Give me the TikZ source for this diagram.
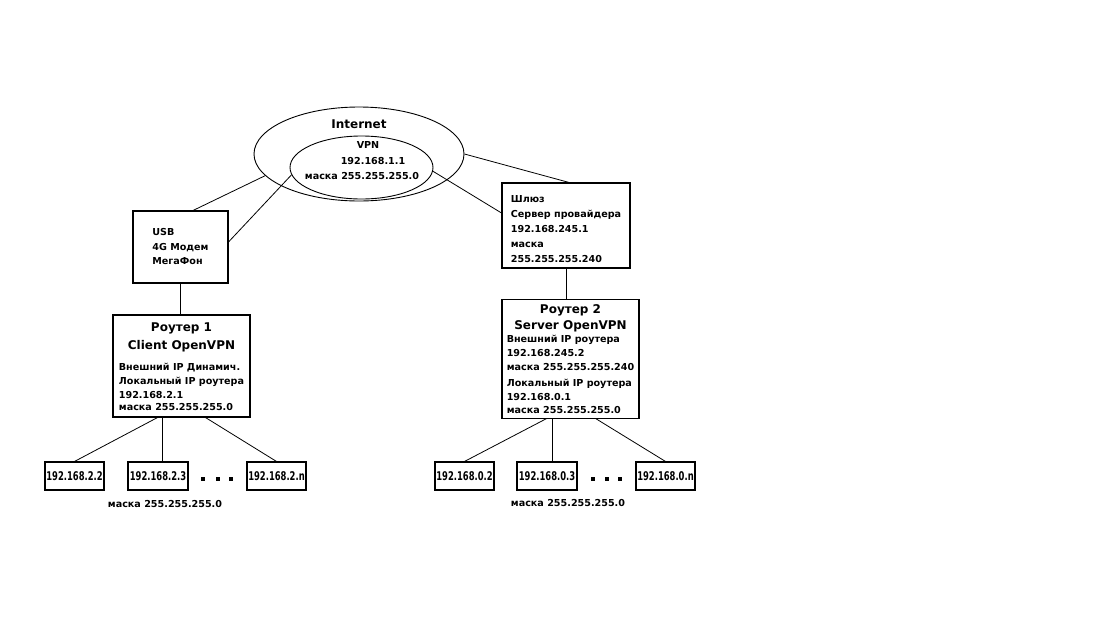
\documentclass[tikz,border=0pt]{standalone}
\usepackage{fontspec}
\setmainfont{DejaVu Sans}
\newfontfamily\hostfont[FakeStretch=0.7]{DejaVu Sans}
\usetikzlibrary{positioning,shapes.geometric}
\newcommand\ttlfont{\fontsize{12}{18}\selectfont\bfseries}
\newcommand\bodyfont{\fontsize{9.6}{14}\selectfont\bfseries}

\begin{document}
\begin{tikzpicture}[x=1pt,y=-1pt,
  box/.style={draw,line width=1.1pt,align=left,inner sep=0pt,minimum width=#1},
  box/.default=95,
  router/.style={draw,line width=1.1pt,align=center,inner sep=0pt,minimum width=137,font=\ttlfont},
  host/.style={draw,line width=1.1pt,minimum width=59,minimum height=28,inner sep=0pt,font=\hostfont\fontsize{12}{14}\selectfont\bfseries},
  cloud/.style={draw,ellipse,line width=0.9pt,inner sep=0pt},
  lbl/.style={align=center,font=\fontsize{9.6}{15.5}\selectfont\bfseries},
  dot/.style={fill,inner sep=0pt,minimum size=3.2pt},
  wire/.style={line width=0.8pt}]
\useasboundingbox[fill=white] (0,0) rectangle (1119,632);
\node[cloud,minimum width=210,minimum height=94] (inet) at (359,154) {};
\node[cloud,minimum width=143,minimum height=63] (vpn) at (361.5,167.5) {};
\node[font=\fontsize{12}{14}\selectfont\bfseries] (inettxt) at (359,124) {Internet};
\node[lbl] (vpntxt) at (362,161) {\hspace*{12pt}VPN\\\hspace*{22pt}192.168.1.1\\маска 255.255.255.0};
\node[box,minimum height=72,font=\fontsize{9.6}{14.5}\selectfont\bfseries] (usb) at (180.5,247) {USB\\4G Модем\\МегаФон};
\node[box=128,minimum height=85,font=\fontsize{9.6}{15}\selectfont\bfseries] (gw) at (566,225.5) {\rule{0pt}{15pt}Шлюз\\Сервер провайдера\\192.168.245.1\\маска\\255.255.255.240};
\node[router,minimum height=102] (r1) at (181.5,366) {\rule{0pt}{15pt}Роутер 1\\Client OpenVPN\\[3pt]
  \bodyfont\begin{tabular}[t]{@{}l@{}}Внешний IP Динамич.\\Локальный IP роутера\\192.168.2.1\\[-2pt]маска 255.255.255.0\end{tabular}};
\node[router,minimum height=118,font=\fontsize{12}{16}\selectfont\bfseries] (r2) at (570.5,359) {\rule{0pt}{14pt}Роутер 2\\Server OpenVPN\\[-3pt]
  \bodyfont\begin{tabular}[t]{@{}l@{}}Внешний IP роутера\\192.168.245.2\\маска 255.255.255.240\\[2pt]Локальный IP роутера\\192.168.0.1\\[-1pt]маска 255.255.255.0\end{tabular}};
\node[host] (a1) at (74.5,476) {192.168.2.2};
\node[host,minimum width=60] (a2) at (158,476) {192.168.2.3};
\node[host] (a3) at (276.5,476) {192.168.2.n};
\node[host] (b1) at (464.5,476) {192.168.0.2};
\node[host,minimum width=60] (b2) at (547,476) {192.168.0.3};
\node[host] (b3) at (665.5,476) {192.168.0.n};
\foreach \x [count=\i] in {203,218,231} \node[dot] (ld\i) at (\x,479) {};
\foreach \x [count=\i] in {593,607,620} \node[dot] (rd\i) at (\x,479) {};
\node[lbl] (lmask) at (165,504) {маска 255.255.255.0};
\node[lbl] (rmask) at (568,503) {маска 255.255.255.0};
\draw[wire] (inet.193) -- (usb.71); \draw[wire] (vpn.186) -- (usb.6);
\draw[wire] (vpn.357) -- (gw.169); \draw[wire] (inet.east) -- (gw.86);
\draw[wire] (usb.south) -- (usb.south |- r1.north);
\draw[wire] (gw.south) -- (gw.south |- r2.north);
\draw[wire] (r1.245) -- (a1.north); \draw[wire] (r1.250) -- (r1.250 |- a2.north); \draw[wire] (r1.295) -- (a3.north);
\draw[wire] (r2.248) -- (b1.north); \draw[wire] (r2.253) -- (r2.253 |- b2.north); \draw[wire] (r2.293) -- (b3.north);
\end{tikzpicture}
\end{document}
